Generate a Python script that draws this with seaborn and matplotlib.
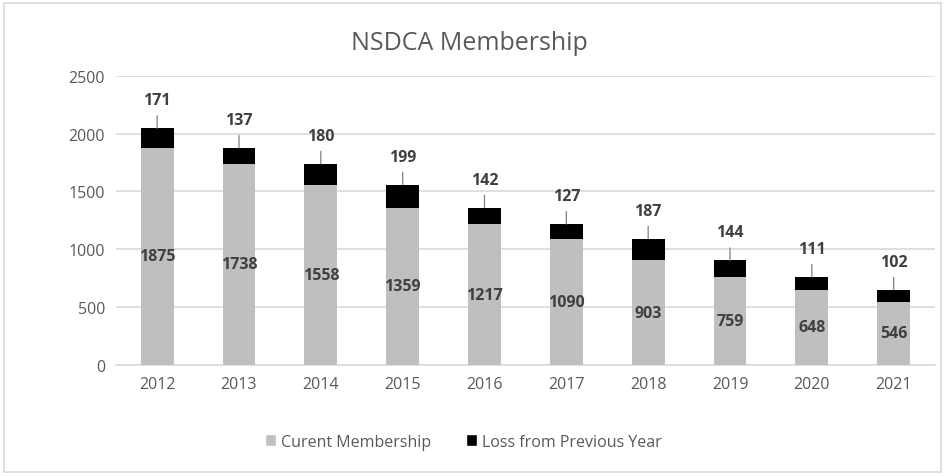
import matplotlib
matplotlib.use("Agg")
import pandas as pd
import seaborn as sns
import matplotlib.pyplot as plt
from matplotlib.patches import Patch, Rectangle

# data
years = ["2012", "2013", "2014", "2015", "2016", "2017", "2018", "2019", "2020", "2021"]
current = [1875, 1738, 1558, 1359, 1217, 1090, 903, 759, 648, 546]
loss = [171, 137, 180, 199, 142, 127, 187, 144, 111, 102]

df = pd.DataFrame({"Year": years, "Current": current, "Loss": loss})
df["Total"] = df["Current"] + df["Loss"]

gray = "#BFBFBF"
txt = "#595959"

sns.set_style("white")
plt.rcParams["font.family"] = ["Open Sans", "DejaVu Sans"]

fig = plt.figure(figsize=(9.45, 4.77), dpi=100)
ax = fig.add_axes([0.123, 0.233, 0.866, 0.606])

sns.barplot(data=df, x="Year", y="Total", color="black", width=0.4,
            saturation=1, linewidth=0, ax=ax, zorder=2)
sns.barplot(data=df, x="Year", y="Current", color=gray, width=0.4,
            saturation=1, linewidth=0, ax=ax, zorder=3)

ax.set_ylim(0, 2500)
ax.set_xlim(-0.5, len(years) - 0.5)
ax.set_yticks(range(0, 2501, 500))
ax.yaxis.grid(True, color="#D9D9D9", linewidth=1.2, zorder=0)
ax.set_axisbelow(True)
for s in ["top", "right", "left"]:
    ax.spines[s].set_visible(False)
ax.spines["bottom"].set_color("#D9D9D9")
ax.spines["bottom"].set_linewidth(1.2)
ax.tick_params(axis="both", length=0, labelsize=11.5, colors=txt, pad=8)
ax.set_xlabel("")
ax.set_ylabel("")

# labels: current in the middle, loss above with a leader line
for i, row in df.iterrows():
    ax.text(i, row["Current"] / 2, f'{row["Current"]}', ha="center", va="center",
            fontsize=11.5, fontweight="bold", color="#404040", zorder=5)
    ax.annotate(f'{row["Loss"]}', xy=(i, row["Total"]), xytext=(0, 20),
                textcoords="offset pixels", ha="center", va="bottom",
                fontsize=11.5, fontweight="bold", color="#404040",
                arrowprops=dict(arrowstyle="-", color="#7F7F7F", lw=0.9,
                                shrinkA=3, shrinkB=0))

fig.text(0.497, 0.908, "NSDCA Membership", ha="center", va="center",
         fontsize=18, color=txt)

handles = [Patch(facecolor=gray, label="Curent Membership"),
           Patch(facecolor="black", label="Loss from Previous Year")]
fig.legend(handles=handles, loc="center", bbox_to_anchor=(0.49, 0.072), ncol=2,
           frameon=False, fontsize=11.5, labelcolor=txt, handlelength=0.7,
           handleheight=0.7, handletextpad=0.3, columnspacing=2.2)

fig.patches.append(Rectangle((0.004, 0.008), 0.992, 0.984, transform=fig.transFigure,
                             fill=False, edgecolor="#D9D9D9", linewidth=1.2))

fig.savefig("out.png", dpi=100)
